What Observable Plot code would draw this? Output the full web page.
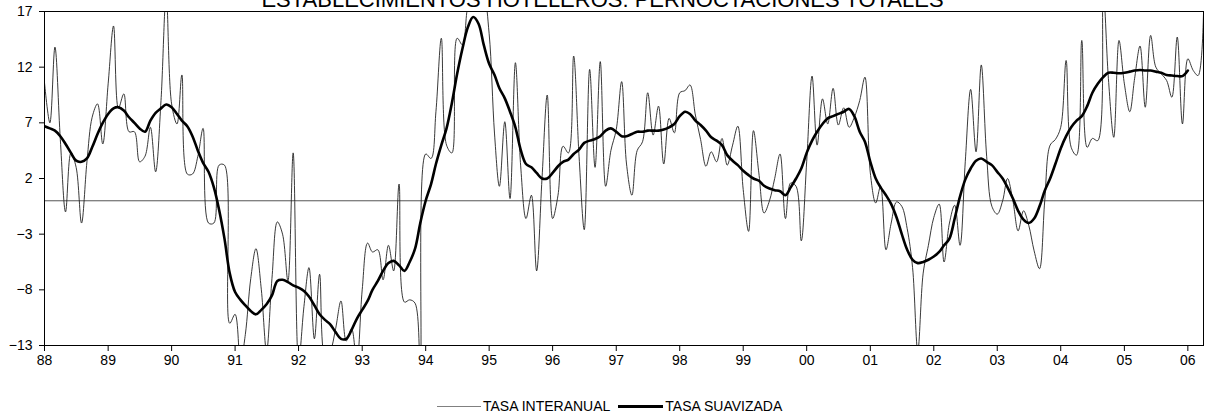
<!DOCTYPE html>
<html>
<head>
<meta charset="utf-8">
<script src="https://cdn.jsdelivr.net/npm/d3@7"></script>
<script src="https://cdn.jsdelivr.net/npm/@observablehq/plot@0.6"></script>
<style>
  html, body { margin: 0; padding: 0; background: #fff; }
  body { font-family: "Liberation Sans", Arial, sans-serif; color: #000; }
  #wrap { position: relative; width: 1205px; height: 419px; overflow: hidden; background: #fff; }
  #title { position: absolute; left: 0; top: -13px; width: 1205px; text-align: center; font-size: 22px; line-height: 25px; white-space: nowrap; }
  #chart { position: absolute; left: 0; top: 0; }
  #legend { position: absolute; left: 437px; top: 399px; display: flex; align-items: center; font-size: 14px; line-height: 15px; white-space: nowrap; }
  .sw1 { width: 44px; height: 0; border-top: 1px solid #808080; }
  .sw2 { width: 45px; height: 0; border-top: 3px solid #000; margin-left: 8px; }
  .lt { margin-left: 2px; }
</style>
</head>
<body>
<div id="wrap">
  <div id="chart"></div>
  <div id="title">ESTABLECIMIENTOS HOTELEROS: PERNOCTACIONES TOTALES</div>
  <div id="legend"><span class="sw1"></span><span class="lt">TASA INTERANUAL</span><span class="sw2"></span><span class="lt">TASA SUAVIZADA</span></div>
</div>
<script>
// Monthly series starting January 1988
const startYear = 1988;

const interanual = [
  10.6, 7.0, 13.8, 5.5, -1.0, 4.3, 3.0, -2.0, 3.5, 7.5, 8.7, 5.1,
  10.5, 15.7, 8.3, 9.6, 6.2, 6.2, 3.5, 4.0, 6.6, 2.6, 9.0, 18.5,
  8.7, 6.9, 11.3, 2.4, 2.4, 4.0, 6.5, -2.0, -2.0, 3.2, 3.2, -11.0,
  -10.2, -14.5, -12.0, -7.0, -4.3, -8.0, -13.5, -7.0, -1.9, -3.0, -7.2, 4.3,
  -14.5, -9.5, -6.0, -12.4, -6.6, -14.0, -13.5, -11.5, -9.0, -12.6, -11.5, -14.5,
  -8.0, -3.8, -4.6, -4.4, -7.1, -4.0, -6.3, 1.5, -9.1, -8.9, -9.2, -15.0,
  4.2, 3.8, 8.0, 14.6, 5.0, 4.3, 14.6, 14.0, 17.5, 18.5, 19.0, 18.5,
  15.0, 6.0, 1.3, 7.1, 0.2, 12.4, 3.2, -1.6, 0.5, -6.3, 2.0, 9.5,
  -1.6, 0.5, 4.9, 4.3, 13.0, 4.0, -2.6, 11.8, 3.0, 12.5, 1.3, 4.5,
  6.4, 10.7, 3.3, 0.5, 4.5, 5.3, 9.7, 5.9, 8.5, 3.3, 7.4, 6.1,
  9.7, 9.9, 10.4, 7.7, 5.5, 3.1, 4.4, 3.5, 5.6, 3.2, 5.0, 6.7,
  1.0, -2.75, 6.3, 2.5, -1.1, 0.0, 2.0, 4.2, -1.6, 1.6, 1.3, -3.6,
  3.5, 11.2, 5.0, 9.15, 6.9, 10.1, 6.8, 8.35, 6.6, 7.5, 9.0, 11.1,
  2.5, -0.2, 1.3, -4.4, -2.0, -0.1, -0.5, -2.5, -6.0, -13.5, -6.5, -4.0,
  -1.5, -0.3, -5.5, -2.0, -0.4, -4.0, 3.5, 10.0, 4.4, 12.2, 4.0, -0.5,
  -1.2, 0.0, 2.0, 0.0, -2.7, -0.9, -2.2, -4.5, -6.1, 0.0, 5.0, 5.5,
  6.6, 12.6, 4.8, 4.1, 14.4, 4.8, 5.6, 5.4, 19.0, 11.0, 5.7, 14.4,
  10.5, 8.0, 11.0, 13.9, 8.4, 14.85, 12.0, 11.4, 10.8, 9.3, 14.7, 6.9,
  12.75, 11.7, 11.25, 16.8
];

const suavizada = [
  6.7, 6.5, 6.3, 5.8, 5.1, 4.3, 3.6, 3.5, 3.8, 4.8, 6.0, 7.0,
  7.8, 8.3, 8.4, 8.1, 7.5, 7.0, 6.5, 6.2, 7.2, 7.9, 8.3, 8.65,
  8.4, 7.8, 7.2, 6.7, 5.8, 4.5, 3.4, 2.6, 1.2, -0.8, -3.4, -6.5,
  -8.2, -8.9, -9.4, -9.9, -10.2, -9.8, -9.3, -8.5, -7.2, -7.1, -7.3, -7.6,
  -7.8, -8.1, -8.6, -9.4, -10.2, -10.7, -11.1, -11.8, -12.4, -12.4, -11.6, -10.6,
  -9.8, -9.0, -8.0, -7.2, -6.3, -5.6, -5.4, -5.8, -6.3, -5.5, -4.3, -2.0,
  0.0, 1.5, 3.3, 5.0, 6.5, 8.8, 11.4, 13.7, 15.6, 16.5, 15.9, 14.0,
  12.3, 11.3, 10.1, 9.2, 8.0, 6.6, 4.6, 3.3, 3.0, 2.5, 2.0, 2.0,
  2.5, 3.1, 3.5, 3.7, 4.2, 4.6, 5.2, 5.4, 5.55, 5.8, 6.3, 6.5,
  6.2, 5.8, 5.8, 6.0, 6.2, 6.2, 6.3, 6.3, 6.3, 6.4, 6.6, 6.9,
  7.6, 8.0, 7.8, 7.2, 6.8, 6.3, 5.7, 5.4, 5.0, 4.1, 3.6, 3.2,
  2.7, 2.3, 2.0, 1.8, 1.35, 1.1, 0.95, 0.85, 0.5, 1.2, 2.0, 2.9,
  4.3, 5.4, 6.2, 6.9, 7.4, 7.6, 7.8, 8.0, 8.25, 7.6, 6.2, 5.3,
  3.5, 2.0, 1.2, 0.5, -0.3, -1.5, -3.0, -4.4, -5.3, -5.6, -5.5, -5.3,
  -5.0, -4.6, -4.0, -3.4, -1.6, 0.4, 1.9, 2.9, 3.6, 3.8, 3.5, 3.2,
  2.6, 2.0, 1.2, 0.2, -0.9, -1.7, -2.0, -1.6, -0.5, 0.9, 2.0, 3.3,
  4.7, 5.8, 6.6, 7.2, 7.6, 8.5, 9.7, 10.5, 11.1, 11.5, 11.5, 11.45,
  11.5, 11.6, 11.7, 11.75, 11.7, 11.7, 11.6, 11.5, 11.3, 11.25, 11.2, 11.2,
  11.7
];

const yTicks = [-13, -8, -3, 2, 7, 12, 17];
const xTickLabels = ["88","89","90","91","92","93","94","95","96","97","98","99","00","01","02","03","04","05","06"];

const monthDate = (i) => new Date(Date.UTC(startYear, i, 1));
const thinRows = interanual.map((v, i) => ({ date: monthDate(i), v }));
const smoothRows = suavizada.map((v, i) => ({ date: monthDate(i), v }));
const xTicks = xTickLabels.map((_, k) => new Date(Date.UTC(startYear + k, 0, 1)));

const chart = Plot.plot({
  width: 1205,
  height: 385,
  marginLeft: 44,
  marginRight: 2,
  marginTop: 11,
  marginBottom: 40,
  style: { fontFamily: "'Liberation Sans', Arial, sans-serif", fontSize: "14px", color: "#000", background: "transparent", overflow: "visible" },
  x: {
    type: "utc",
    domain: [monthDate(0), monthDate(interanual.length - 1)],
    ticks: xTicks,
    tickFormat: (d) => xTickLabels[d.getUTCFullYear() - startYear],
    tickSize: 6,
    tickPadding: 4,
    label: null
  },
  y: {
    domain: [-13, 17],
    ticks: yTicks,
    tickSize: 5,
    tickPadding: 7,
    label: null
  },
  marks: [
    Plot.ruleY([0], { stroke: "#555", strokeWidth: 1 }),
    Plot.line(thinRows, { x: "date", y: "v", curve: "catmull-rom", stroke: "#222", strokeWidth: 0.9, clip: true }),
    Plot.line(smoothRows, { x: "date", y: "v", curve: "catmull-rom", stroke: "#000", strokeWidth: 2.6, clip: true }),
    Plot.frame({ stroke: "#000", strokeWidth: 1 })
  ]
});
document.getElementById("chart").appendChild(chart);
</script>
</body>
</html>
